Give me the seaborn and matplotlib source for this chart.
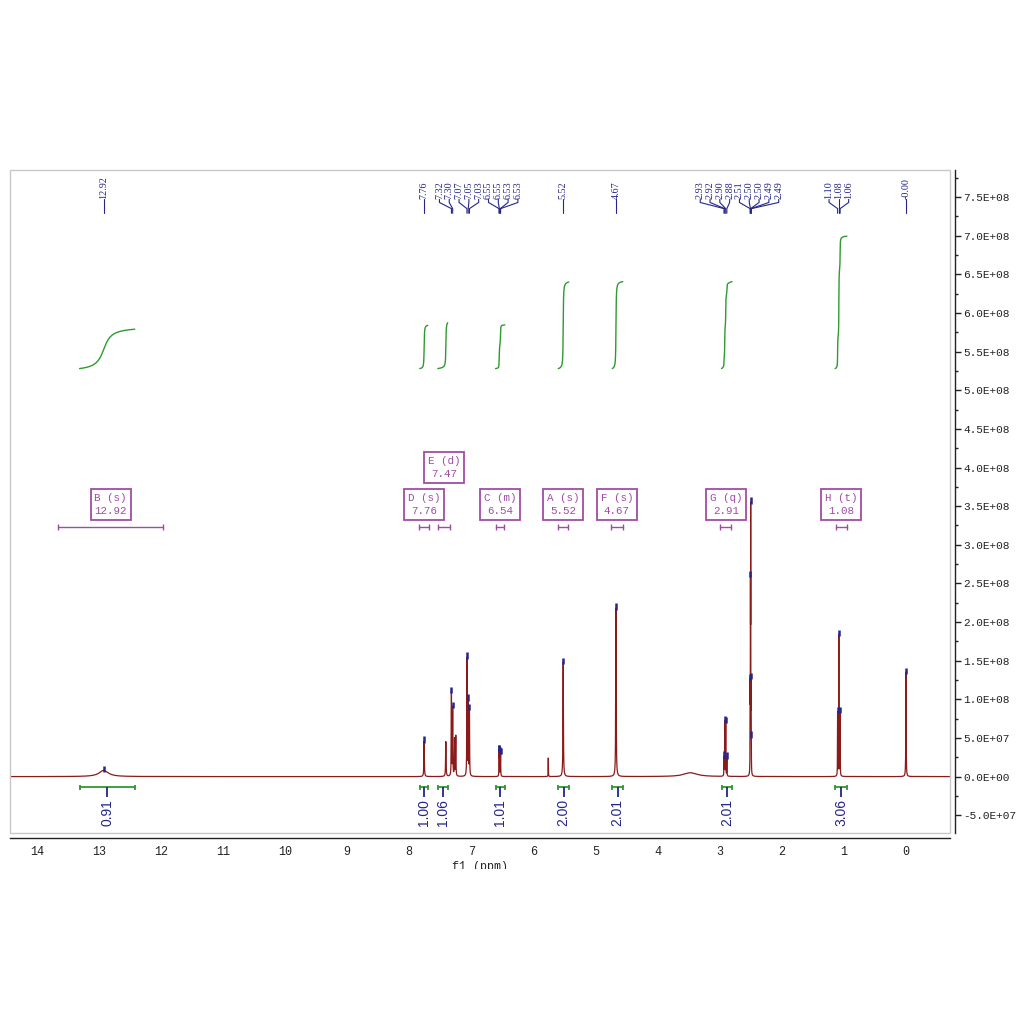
import numpy as np
import pandas as pd
import matplotlib
matplotlib.use("Agg")
import matplotlib.pyplot as plt
import seaborn as sns
from matplotlib.patches import Rectangle
from matplotlib.ticker import MultipleLocator, FuncFormatter
from matplotlib.transforms import Bbox, TransformedBbox

# spectrum lines: shift (ppm), height (x1e8), half width (ppm)
line_ppm = [12.92, 7.76, 7.41, 7.32, 7.30, 7.27, 7.25, 7.07, 7.05, 7.03,
            6.553, 6.548, 6.534, 6.528, 5.76, 5.52, 4.67, 3.47,
            2.930, 2.918, 2.902, 2.884,
            2.509, 2.504, 2.500, 2.494, 2.490,
            1.10, 1.08, 1.06, -0.001]
line_height = [0.08, 0.46, 0.45, 1.08, 0.88, 0.48, 0.52, 1.52, 0.95, 0.85,
               0.30, 0.30, 0.28, 0.28, 0.24, 1.48, 2.18, 0.05,
               0.24, 0.70, 0.70, 0.24,
               1.00, 2.10, 3.20, 1.00, 0.30,
               0.82, 1.82, 0.82, 1.35]
line_hwhm = [0.09, 0.004, 0.004, 0.003, 0.003, 0.003, 0.003, 0.003, 0.003, 0.003,
             0.002, 0.002, 0.002, 0.002, 0.002, 0.004, 0.004, 0.13,
             0.002, 0.002, 0.002, 0.002,
             0.0015, 0.0015, 0.0015, 0.0015, 0.0015,
             0.002, 0.002, 0.002, 0.003]

# peak picking labels
pick_ppm = [12.92, 7.76, 7.32, 7.30, 7.07, 7.05, 7.03,
            6.553, 6.548, 6.534, 6.528, 5.52, 4.67,
            2.930, 2.918, 2.902, 2.884, 2.509, 2.504, 2.500, 2.494, 2.490,
            1.10, 1.08, 1.06, -0.001]

# integrals
integral_start = [13.31, 7.83, 7.54, 6.61, 5.60, 4.73, 2.97, 1.14]
integral_end = [12.42, 7.70, 7.38, 6.46, 5.43, 4.56, 2.80, 0.95]
integral_value = [0.91, 1.00, 1.06, 1.01, 2.00, 2.01, 2.01, 3.06]

# multiplet analysis
mult_name = ['B', 'D', 'E', 'C', 'A', 'F', 'G', 'H']
mult_type = ['s', 's', 'd', 'm', 's', 's', 'q', 't']
mult_shift = [12.92, 7.76, 7.47, 6.54, 5.52, 4.67, 2.91, 1.08]
mult_start = [13.66, 7.84, 7.53, 6.60, 5.60, 4.75, 2.99, 1.13]
mult_end = [11.96, 7.68, 7.35, 6.47, 5.44, 4.56, 2.81, 0.95]

spec_color = '#8b1a1a'
int_color = '#2f9a2f'
navy = '#25258a'
purple = '#a04ca4'

sns.set_style("white")
plt.rcParams['font.family'] = ['Liberation Mono', 'DejaVu Sans']

# build the spectrum from the line list
x = np.union1d(np.linspace(-0.75, 14.5, 40000), np.array(line_ppm))
y = np.zeros_like(x)
for p, h, w in zip(line_ppm, line_height, line_hwhm):
    y += h * 1e8 / (1 + ((x - p) / w) ** 2)
spec = pd.DataFrame({'ppm': x, 'intensity': y})

fig = plt.figure(figsize=(10.24, 10.24), dpi=100)
ax = fig.add_axes([10 / 1024, 1 - 833 / 1024, 940 / 1024, 663 / 1024])

sns.lineplot(data=spec, x='ppm', y='intensity', ax=ax, color=spec_color,
             linewidth=0.9, estimator=None, sort=False)

ax.set_xlim(14.43, -0.71)
ax.set_ylim(-0.73e8, 7.85e8)


def spec_at(p):
    return np.interp(p, x, y)


# peak pick markers
for p in pick_ppm:
    h = spec_at(p)
    ax.vlines(p, h - 0.02e8, h + 0.06e8, color=navy, lw=1.8)


# spread peak labels so they do not overlap
def spread(pos, gap):
    groups = [[p] for p in sorted(pos, reverse=True)]
    merged = True
    while merged:
        merged = False
        out = [groups[0]]
        for g in groups[1:]:
            prev = out[-1]
            prev_low = np.mean(prev) - gap * (len(prev) - 1) / 2
            g_high = np.mean(g) + gap * (len(g) - 1) / 2
            if prev_low - g_high < gap:
                out[-1] = prev + g
                merged = True
            else:
                out.append(g)
        groups = out
    res = []
    for g in groups:
        c = np.mean(g)
        n = len(g)
        res += [c + gap * ((n - 1) / 2 - i) for i in range(n)]
    return res


label_x = spread(pick_ppm, 0.158)
for p, lx in zip(sorted(pick_ppm, reverse=True), label_x):
    ax.text(lx, 7.47e8, f"{p:.2f}", rotation=90, ha='center', va='bottom',
            fontsize=7.3, color=navy, family=['Liberation Serif', 'DejaVu Serif'])
    ax.plot([lx, lx, p, p], [7.47e8, 7.43e8, 7.35e8, 7.29e8], color=navy, lw=0.8)

# integrals
for s, e, v in zip(integral_start, integral_end, integral_value):
    m = (x <= s) & (x >= e)
    xs = x[m][::-1]
    ys = y[m][::-1]
    cum = np.concatenate([[0], np.cumsum(0.5 * (ys[1:] + ys[:-1]) * np.abs(np.diff(xs)))])
    curve = 5.28e8 + v * 0.56e8 * cum / cum[-1]
    sns.lineplot(x=xs, y=curve, ax=ax, color=int_color, linewidth=1.0,
                 estimator=None, sort=False)
    c = (s + e) / 2
    ax.plot([s, e], [-0.14e8, -0.14e8], color=int_color, lw=1.3)
    ax.vlines([s, e], -0.17e8, -0.11e8, color=int_color, lw=1.3)
    ax.vlines(c, -0.27e8, -0.14e8, color=navy, lw=1.3)
    ax.text(c, -0.46e8, f"{v:.2f}", rotation=90, ha='center', va='center',
            fontsize=10, color=navy, family=['Liberation Sans', 'DejaVu Sans'])

# multiplet boxes
box_y = {'E': 4.0e8}
for n, t, sh, s, e in zip(mult_name, mult_type, mult_shift, mult_start, mult_end):
    c = (s + e) / 2
    ax.text(c, box_y.get(n, 3.52e8), f"{n} ({t})\n{sh:.2f}", ha='center', va='center',
            fontsize=7.8, color=purple, linespacing=1.35,
            bbox=dict(boxstyle='square,pad=0.35', fc='white', ec=purple, lw=1.3))
    ax.plot([s, e], [3.23e8, 3.23e8], color=purple, lw=1.0)
    ax.vlines([s, e], 3.19e8, 3.27e8, color=purple, lw=1.0)

# frame and axes
ax.add_patch(Rectangle((0, 0), 1, 1, transform=ax.transAxes, fill=False,
                       ec='#c8c8c8', lw=1.0, clip_on=False, zorder=5))
for side in ['left', 'top']:
    ax.spines[side].set_visible(False)
for side in ['bottom', 'right']:
    ax.spines[side].set_visible(True)
    ax.spines[side].set_color('#222222')
    ax.spines[side].set_linewidth(1.0)
    ax.spines[side].set_position(('outward', 3.5))

ax.yaxis.tick_right()
ax.xaxis.set_major_locator(MultipleLocator(1))
ax.xaxis.set_minor_locator(MultipleLocator(0.5))
ax.yaxis.set_major_locator(MultipleLocator(5e7))
ax.yaxis.set_minor_locator(MultipleLocator(2.5e7))
ax.xaxis.set_major_formatter(FuncFormatter(lambda v, _: f"{v:.0f}"))
ax.yaxis.set_major_formatter(FuncFormatter(lambda v, _: f"{v:.1E}"))
ax.tick_params(axis='both', which='major', direction='out', length=4, width=1,
               labelsize=8, colors='#222222', pad=2)
ax.tick_params(axis='both', which='minor', direction='out', length=2.5, width=1,
               colors='#222222')
ax.tick_params(axis='x', labelsize=8.5, pad=2)
ax.set_xlabel('')
ax.set_ylabel('')

lab = fig.text(480 / 1024, 1 - 861 / 1024, 'f1 (ppm)', ha='center', va='top',
               fontsize=8.5, color='#222222')
lab.set_clip_box(TransformedBbox(Bbox([[0, 1 - 869 / 1024], [1, 1]]), fig.transFigure))
lab.set_clip_on(True)

fig.savefig('out.png', dpi=100)
